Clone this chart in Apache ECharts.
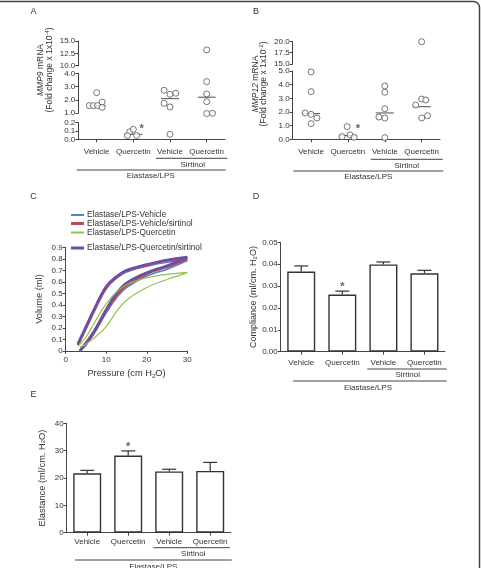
<!DOCTYPE html>
<html>
<head>
<meta charset="utf-8">
<script src="https://cdn.jsdelivr.net/npm/echarts@6.0.0/dist/echarts.min.js"></script>
<style>
  html, body { margin: 0; padding: 0; background: #fff; }
  #chart { width: 481px; height: 568px; }
</style>
</head>
<body>
<div id="chart"></div>
<script>
// categories
const catNames = ['Vehicle', 'Quercetin', 'Vehicle', 'Quercetin'];

// A: MMP9 mRNA, x = group index + jitter
const mmp9X = [0, -0.2, -0.09, 0.03, 0.15, 0.15,
  0.9, 1.0, 0.84, 1.09,
  1.84, 2.0, 2.16, 1.84, 2.0, 2.0,
  3.0, 3.0, 3.0, 3.0, 3.0, 3.16];
const mmp9Y = [2.54, 1.56, 1.56, 1.56, 1.83, 1.43,
  0.09, 0.12, 0.045, 0.045,
  2.72, 2.41, 2.49, 1.73, 1.46, 0.06,
  13.2, 3.37, 2.44, 1.86, 0.96, 0.98];
const mmp9Median = [1.56, 0.06, 2.09, 2.19];
const mmp9Star = [1.23, 0.12];
const mmp9Ticks = [[10, 15, 2.5], [1, 4, 1], [0, 0.2, 0.1]];

// B: MMP12 mRNA
const mmp12X = [0, 0, -0.16, 0, 0.16, 0,
  0.84, 0.98, 1.06, 1.17,
  2.0, 2.0, 2.0, 1.84, 2.0, 2.0,
  3.0, 2.84, 3.0, 3.11, 3.0, 3.16];
const mmp12Y = [4.93, 3.49, 1.93, 1.83, 1.56, 1.15,
  0.2, 0.93, 0.32, 0.15,
  3.9, 3.44, 2.24, 1.63, 1.56, 0.12,
  19.9, 2.51, 2.95, 2.88, 1.56, 1.73];
const mmp12Median = [1.88, 0.27, 1.93, 2.39];
const mmp12Star = [1.27, 0.72];
const mmp12Ticks = [[15, 20, 2.5], [0, 5, 1]];

// C: pressure-volume loops (inflation up to 30, deflation back down)
const pvPressure = [3.5, 5, 7, 10, 12.5, 15, 20, 25, 30, 25, 20, 15, 12.5, 10, 7, 5, 3];
const pvVehicle =      [0.0, 0.05, 0.15, 0.33, 0.46, 0.55, 0.65, 0.71, 0.785, 0.77, 0.735, 0.685, 0.63, 0.54, 0.34, 0.19, 0.05];
const pvVehicleSirt =  [0.0, 0.06, 0.16, 0.35, 0.48, 0.57, 0.67, 0.73, 0.80, 0.785, 0.745, 0.695, 0.64, 0.55, 0.35, 0.20, 0.05];
const pvQuercetin =    [0.03, 0.06, 0.11, 0.21, 0.34, 0.44, 0.55, 0.62, 0.68, 0.665, 0.635, 0.575, 0.51, 0.41, 0.24, 0.12, 0.04];
const pvQuercetinSirt = [0.0, 0.07, 0.17, 0.36, 0.50, 0.59, 0.68, 0.74, 0.815, 0.79, 0.75, 0.70, 0.645, 0.56, 0.36, 0.21, 0.06];
const pvNames = ['Elastase/LPS-Vehicle', 'Elastase/LPS-Vehicle/sirtinol',
  'Elastase/LPS-Quercetin', 'Elastase/LPS-Quercetin/sirtinol'];

// D: compliance
const complianceMean = [0.0366, 0.0261, 0.0399, 0.0358];
const complianceErr = [0.0026, 0.0016, 0.0011, 0.0014];
// E: elastance
const elastanceMean = [21.7, 28.2, 22.4, 22.6];
const elastanceErr = [1.1, 1.7, 0.8, 3.1];

const FONT = 'Liberation Sans, Arial, sans-serif';
const AX = '#444';
const TXT = '#333';

const chart = echarts.init(document.getElementById('chart'));

const grids = [
  { left: 78.3, top: 41, width: 146.7, height: 24.7 },   // 0 A top
  { left: 78.3, top: 73.3, width: 146.7, height: 39.7 }, // 1 A mid
  { left: 78.3, top: 122.7, width: 146.7, height: 16.6 },// 2 A bottom
  { left: 292.6, top: 41.3, width: 147.5, height: 22.7 },// 3 B top
  { left: 292.6, top: 71, width: 147.5, height: 68.3 },  // 4 B bottom
  { left: 65.7, top: 247.3, width: 121.6, height: 103.5 },// 5 C
  { left: 280.7, top: 242.3, width: 164.3, height: 109.4 },// 6 D
  { left: 66.7, top: 423.3, width: 164, height: 109.4 }  // 7 E
];

const tickLabel = { fontSize: 8, color: TXT, fontFamily: FONT, margin: 3 };
const axLine = { show: true, onZero: false, lineStyle: { color: AX, width: 1 } };
const axTick = { show: true, length: 3, lineStyle: { color: AX } };

const xAxes = [];
const yAxes = [];
// hidden value x axes for the scatter segments (grids 0-4)
for (let g = 0; g < 5; g++) {
  xAxes.push({ type: 'value', gridIndex: g, min: -0.5, max: 3.5, show: false, position: 'top' });
}
function catAxis(g, margin) {
  return {
    type: 'category', gridIndex: g, data: catNames, position: 'bottom',
    axisLine: axLine, axisTick: Object.assign({ alignWithLabel: true, interval: 0 }, axTick),
    axisLabel: Object.assign({}, tickLabel, { margin: margin, interval: 0 })
  };
}
// category axes for A and B bottoms
xAxes.push(catAxis(2, 8));
xAxes.push(catAxis(4, 8));
// C
xAxes.push({
  type: 'value', gridIndex: 5, min: 0, max: 30, interval: 10, position: 'bottom',
  axisLine: axLine, axisTick: axTick, splitLine: { show: false },
  axisLabel: Object.assign({}, tickLabel, { margin: 5 }),
  name: 'Pressure (cm H{s|2}O)', nameLocation: 'middle', nameGap: 17,
  nameTextStyle: { fontSize: 9.3, color: TXT, fontFamily: FONT,
    rich: { s: { fontSize: 6, padding: [6, 0, 0, 0], fontFamily: FONT, color: TXT } } }
});
// D, E
xAxes.push(catAxis(6, 7));
xAxes.push(catAxis(7, 5.5));

function segAxis(g, t) {
  return {
    type: 'value', gridIndex: g, min: t[0], max: t[1], interval: t[2],
    axisLine: axLine, axisTick: axTick, splitLine: { show: false },
    axisLabel: Object.assign({}, tickLabel, { formatter: function (v) { return v.toFixed(1); } })
  };
}
mmp9Ticks.forEach(function (t, i) { yAxes.push(segAxis(i, t)); });
mmp12Ticks.forEach(function (t, i) { yAxes.push(segAxis(3 + i, t)); });
const subRich = { s: { fontSize: 6, padding: [0, 0, 0, 0], fontFamily: FONT, color: TXT, verticalAlign: 'bottom' } };
yAxes.push({
  type: 'value', gridIndex: 5, min: 0, max: 0.9, interval: 0.1,
  axisLine: axLine, axisTick: axTick, splitLine: { show: false },
  axisLabel: Object.assign({}, tickLabel, { formatter: function (v) { return +v.toFixed(1) + ''; } }),
  name: 'Volume (ml)', nameLocation: 'middle', nameRotate: 90, nameGap: 22,
  nameTextStyle: { fontSize: 9.3, color: TXT, fontFamily: FONT }
});
yAxes.push({
  type: 'value', gridIndex: 6, min: 0, max: 0.05, interval: 0.01,
  axisLine: axLine, axisTick: axTick, splitLine: { show: false },
  axisLabel: Object.assign({}, tickLabel, { formatter: function (v) { return v.toFixed(2); } }),
  name: 'Compliance (ml/cm. H{s|2}O)', nameLocation: 'middle', nameRotate: 90, nameGap: 20,
  nameTextStyle: { fontSize: 9, color: TXT, fontFamily: FONT, rich: subRich }
});
yAxes.push({
  type: 'value', gridIndex: 7, min: 0, max: 40, interval: 10,
  axisLine: axLine, axisTick: axTick, splitLine: { show: false },
  axisLabel: tickLabel,
  name: 'Elastance (ml/cm. H{s|2}O)', nameLocation: 'middle', nameRotate: 90, nameGap: 20,
  nameTextStyle: { fontSize: 9.3, color: TXT, fontFamily: FONT, rich: subRich }
});

// put each value into the axis segment it belongs to
function segOf(v, ticks) {
  for (let i = 0; i < ticks.length; i++) {
    const lo = ticks[i][0] - 0.1 * (ticks[i][1] - ticks[i][0]);
    if (v >= lo || i === ticks.length - 1) return i;
  }
}
const series = [];
function dotSeries(xs, ys, med, star, ticks, g0) {
  ticks.forEach(function (t, s) {
    const pts = [];
    xs.forEach(function (x, i) { if (segOf(ys[i], ticks) === s) pts.push([x, ys[i]]); });
    const meds = [];
    med.forEach(function (m, i) { if (segOf(m, ticks) === s) meds.push([i, m]); });
    series.push({
      type: 'scatter', xAxisIndex: g0 + s, yAxisIndex: g0 + s, data: pts, clip: false,
      symbol: 'circle', symbolSize: 6, silent: true,
      itemStyle: { color: '#fff', borderColor: '#555', borderWidth: 1 }
    });
    series.push({
      type: 'scatter', xAxisIndex: g0 + s, yAxisIndex: g0 + s, data: meds, clip: false,
      symbol: 'rect', symbolSize: [18, 1.2], silent: true, z: 1,
      itemStyle: { color: '#444' }
    });
    if (segOf(star[1], ticks) === s) {
      series.push({
        type: 'scatter', xAxisIndex: g0 + s, yAxisIndex: g0 + s, data: [star], clip: false,
        symbolSize: 1, itemStyle: { color: 'rgba(0,0,0,0)' }, silent: true,
        label: { show: true, position: 'inside', formatter: '*', fontSize: 11, fontWeight: 'bold', color: '#333', fontFamily: FONT }
      });
    }
  });
}
dotSeries(mmp9X, mmp9Y, mmp9Median, mmp9Star, mmp9Ticks, 0);
dotSeries(mmp12X, mmp12Y, mmp12Median, mmp12Star, mmp12Ticks, 3);

// C loops
const pvSets = [pvVehicle, pvVehicleSirt, pvQuercetin, pvQuercetinSirt];
const pvColors = ['#4a86cc', '#c7455a', '#92c24a', '#6b4fa6'];
const pvWidths = [1.6, 2.6, 1.2, 2.6];
const pvOrder = [0, 1, 3, 2];
pvOrder.forEach(function (k) {
  series.push({
    type: 'line', name: pvNames[k], xAxisIndex: 7, yAxisIndex: 5, smooth: 0.4,
    showSymbol: false, symbol: 'none', silent: true,
    data: pvPressure.map(function (p, i) { return [p, pvSets[k][i]]; }),
    lineStyle: { color: pvColors[k], width: pvWidths[k] }, itemStyle: { color: pvColors[k] }
  });
});

// D, E bars with error bars
function barSet(mean, err, xi, yi, starY) {
  series.push({
    type: 'bar', xAxisIndex: xi, yAxisIndex: yi, data: mean, barWidth: 28, silent: true,
    itemStyle: { color: '#fff', borderColor: '#333', borderWidth: 1.4 }
  });
  series.push({
    type: 'custom', xAxisIndex: xi, yAxisIndex: yi, silent: true, z: 3,
    data: mean.map(function (m, i) { return [i, m, err[i]]; }),
    renderItem: function (params, api) {
      const a = api.coord([api.value(0), api.value(1)]);
      const b = api.coord([api.value(0), api.value(1) + api.value(2)]);
      const st = { stroke: '#333', lineWidth: 1.2 };
      return { type: 'group', children: [
        { type: 'line', shape: { x1: a[0], y1: a[1], x2: b[0], y2: b[1] }, style: st },
        { type: 'line', shape: { x1: b[0] - 7, y1: b[1], x2: b[0] + 7, y2: b[1] }, style: st }
      ] };
    }
  });
  series.push({
    type: 'scatter', xAxisIndex: xi, yAxisIndex: yi, data: [[1, starY]], silent: true,
    symbolSize: 1, itemStyle: { color: 'rgba(0,0,0,0)' },
    label: { show: true, position: 'inside', formatter: '*', fontSize: 11, fontWeight: 'bold', color: '#333', fontFamily: FONT }
  });
}
barSet(complianceMean, complianceErr, 8, 6, 0.0297);
barSet(elastanceMean, elastanceErr, 9, 7, 31.2);

// legend for C, one row each
const legendRows = [216, 224.5, 233.5, 249];
const legends = pvNames.map(function (n, k) {
  return {
    data: [n], left: 71, top: legendRows[k] - 5, icon: 'rect', itemWidth: 13,
    itemHeight: Math.max(2, pvWidths[k] + 0.4), itemGap: 3, padding: 0, selectedMode: false,
    textStyle: { fontSize: 8.3, color: TXT, fontFamily: FONT, padding: [0, 0, 0, -2] }
  };
});

// annotations: panel letters, y titles of broken axes, group lines
const gtext = function (x, y, text, extra) {
  return Object.assign({ type: 'text', x: x, y: y, silent: true,
    style: Object.assign({ text: text, fontSize: 8, fontFamily: FONT, fill: TXT,
      align: 'center', verticalAlign: 'middle' }, extra && extra.style) }, extra && extra.el);
};
const gline = function (x1, x2, y) {
  return { type: 'line', silent: true, shape: { x1: x1, y1: y, x2: x2, y2: y },
    style: { stroke: '#444', lineWidth: 1 } };
};
const rot = { el: { rotation: Math.PI / 2 } };
const sup = { fontSize: 6, padding: [0, 0, 5, 0], fontFamily: FONT, fill: TXT, color: TXT };
const graphics = [
  { type: 'rect', silent: true, shape: { x: -10, y: 1.5, width: 489.5, height: 600, r: [0, 6, 0, 0] },
    style: { fill: 'none', stroke: '#444', lineWidth: 1.5 } },
  gtext(33.5, 12, 'A', { style: { fontSize: 9 } }),
  gtext(256, 12, 'B', { style: { fontSize: 9 } }),
  gtext(33.5, 197, 'C', { style: { fontSize: 9 } }),
  gtext(256, 197, 'D', { style: { fontSize: 9 } }),
  gtext(33.5, 395, 'E', { style: { fontSize: 9 } }),
  gtext(41, 70, '{i|MMP9} mRNA', { el: rot.el, style: { fontSize: 8.5, rich: { i: { fontStyle: 'italic', fontSize: 8.5, fontFamily: FONT, fill: TXT } } } }),
  gtext(50, 70, '(Fold change x 1x10{p|-4})', { el: rot.el, style: { fontSize: 8.5, rich: { p: sup } } }),
  gtext(255.5, 84, '{i|MMP12} mRNA', { el: rot.el, style: { fontSize: 8.5, rich: { i: { fontStyle: 'italic', fontSize: 8.5, fontFamily: FONT, fill: TXT } } } }),
  gtext(264, 84, '(Fold change x 1x10{p|-2})', { el: rot.el, style: { fontSize: 8.5, rich: { p: sup } } }),
  gline(156, 227.3, 158.3), gtext(192.7, 164.3, 'Sirtinol'),
  gline(76.7, 225.7, 170), gtext(150.7, 176, 'Elastase/LPS'),
  gline(370.7, 442.7, 159.3), gtext(406.7, 165.3, 'Sirtinol'),
  gline(293.3, 443.3, 171), gtext(368.3, 176.7, 'Elastase/LPS'),
  gline(367.3, 446.7, 369), gtext(407.7, 374.5, 'Sirtinol'),
  gline(293, 446.7, 381), gtext(368, 387.5, 'Elastase/LPS'),
  gline(153.3, 230, 547.7), gtext(193.3, 554, 'Sirtinol'),
  gline(75, 231.7, 560), gtext(153.3, 566.5, 'Elastase/LPS')
];

chart.setOption({
  animation: false,
  backgroundColor: '#fff',
  textStyle: { fontFamily: FONT },
  grid: grids,
  xAxis: xAxes,
  yAxis: yAxes,
  legend: legends,
  series: series,
  graphic: graphics
});
</script>
</body>
</html>
